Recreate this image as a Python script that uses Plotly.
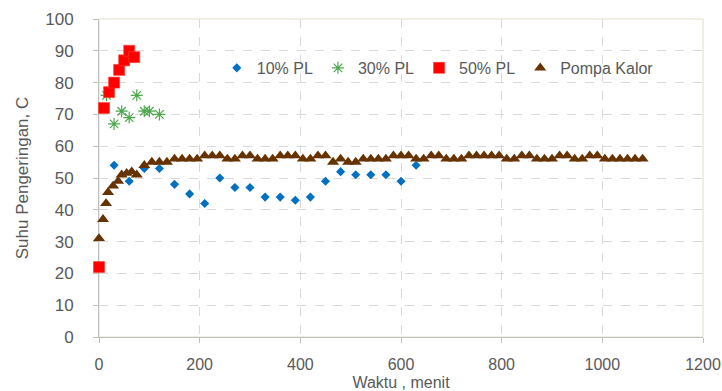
import plotly.graph_objects as go

# ---------------- data ----------------
pl10_t = [30, 60, 90, 120, 150, 180, 210, 240, 270, 300, 330, 360, 390, 420, 450, 480, 510, 540, 570, 600, 630]
pl10_y = [54, 49, 53, 53, 48, 45, 42, 50, 47, 47, 44, 44, 43, 44, 49, 52, 51, 51, 51, 49, 54]

pl30_t = [15, 30, 45, 60, 75, 90, 100, 120]
pl30_y = [76, 67, 71, 69, 76, 71, 71, 70]

pl50_t = [0, 10, 20, 30, 40, 50, 60, 70]
pl50_y = [22, 72, 77, 80, 84, 87, 90, 88]

pk_t = [0, 8, 14, 18, 28, 38, 45, 55, 65, 75,
        90, 105, 120, 135, 150, 165, 180, 195, 210, 225, 240, 255, 270, 285, 300,
        315, 330, 345, 360, 375, 390, 405, 420, 435, 450, 465, 480, 495, 510, 525,
        540, 555, 570, 585, 600, 615, 630, 645, 660, 675, 690, 705, 720, 735, 750,
        765, 780, 795, 810, 825, 840, 855, 870, 885, 900, 915, 930, 945, 960, 975,
        990, 1005, 1020, 1035, 1050, 1065, 1080]
pk_y = [31, 37, 42, 45.5, 47.5, 49, 51, 51.5, 52, 51,
        54, 55, 55, 55, 56, 56, 56, 56, 57, 57, 57, 56, 56, 57, 57,
        56, 56, 56, 57, 57, 57, 56, 56, 57, 57, 55, 56, 55, 55, 56,
        56, 56, 56, 57, 57, 57, 56, 56, 57, 57, 56, 56, 56, 57, 57,
        57, 57, 57, 56, 56, 57, 57, 56, 56, 56, 57, 57, 56, 56, 57,
        57, 56, 56, 56, 56, 56, 56]

x_ticks = [0, 200, 400, 600, 800, 1000, 1200]
y_ticks = [0, 10, 20, 30, 40, 50, 60, 70, 80, 90, 100]

FONT = "Liberation Sans, Arial, sans-serif"
GRAY = "#595959"

fig = go.Figure()
fig.add_trace(go.Scatter(x=pl10_t, y=pl10_y, mode="markers", name="10% PL",
                         marker=dict(symbol="diamond", size=7, color="#0070C0"),
                         cliponaxis=False))
fig.add_trace(go.Scatter(x=pl30_t, y=pl30_y, mode="markers", name="30% PL",
                         marker=dict(symbol="asterisk-open", size=10, color="#4EA84E",
                                     line=dict(color="#4EA84E", width=1.2)),
                         cliponaxis=False))
fig.add_trace(go.Scatter(x=pl50_t, y=pl50_y, mode="markers", name="50% PL",
                         marker=dict(symbol="square", size=11, color="#FF0000",
                                     line=dict(color="#FF3B2F", width=0.6)),
                         cliponaxis=False))
fig.add_trace(go.Scatter(x=pk_t, y=pk_y, mode="markers", name="Pompa Kalor",
                         marker=dict(symbol="triangle-up", size=10.5, color="#663300"),
                         cliponaxis=False))

fig.update_layout(
    width=722, height=391,
    margin=dict(l=99, r=19, t=19, b=54),
    paper_bgcolor="white", plot_bgcolor="white",
    font=dict(family=FONT, size=16, color=GRAY),
    showlegend=True,
    legend=dict(orientation="h", x=0.195, y=0.846, xanchor="left", yanchor="middle",
                bgcolor="rgba(0,0,0,0)", font=dict(size=16, color=GRAY),
                itemsizing="trace", tracegroupgap=0),
    shapes=[dict(type="rect", xref="paper", yref="paper", x0=0, x1=1, y0=0, y1=1,
                 line=dict(color="#E3DCC6", width=1), layer="below")],
)
fig.update_xaxes(range=[0, 1200], tickvals=x_ticks, showgrid=True,
                 gridcolor="#D9D9D9", griddash="dash", gridwidth=1,
                 showline=True, linecolor="#BFBFBF", linewidth=1,
                 ticks="outside", ticklen=5, tickcolor="#BFBFBF",
                 tickfont=dict(size=16, color=GRAY), ticklabelstandoff=8,
                 zeroline=False, automargin=False, layer="below traces",
                 title=dict(text="Waktu , menit", font=dict(size=16, color=GRAY), standoff=7))
fig.update_yaxes(range=[0, 100], tickvals=y_ticks, showgrid=True,
                 gridcolor="#D9D9D9", griddash="dash", gridwidth=1,
                 showline=True, linecolor="#BFBFBF", linewidth=1,
                 ticks="outside", ticklen=5, tickcolor="#BFBFBF",
                 tickfont=dict(size=17, color=GRAY), ticklabelstandoff=16,
                 zeroline=False, automargin=False, layer="below traces",
                 title=dict(text="Suhu Pengeringan, C", font=dict(size=17, color=GRAY), standoff=12))

fig.write_html("out.html")
